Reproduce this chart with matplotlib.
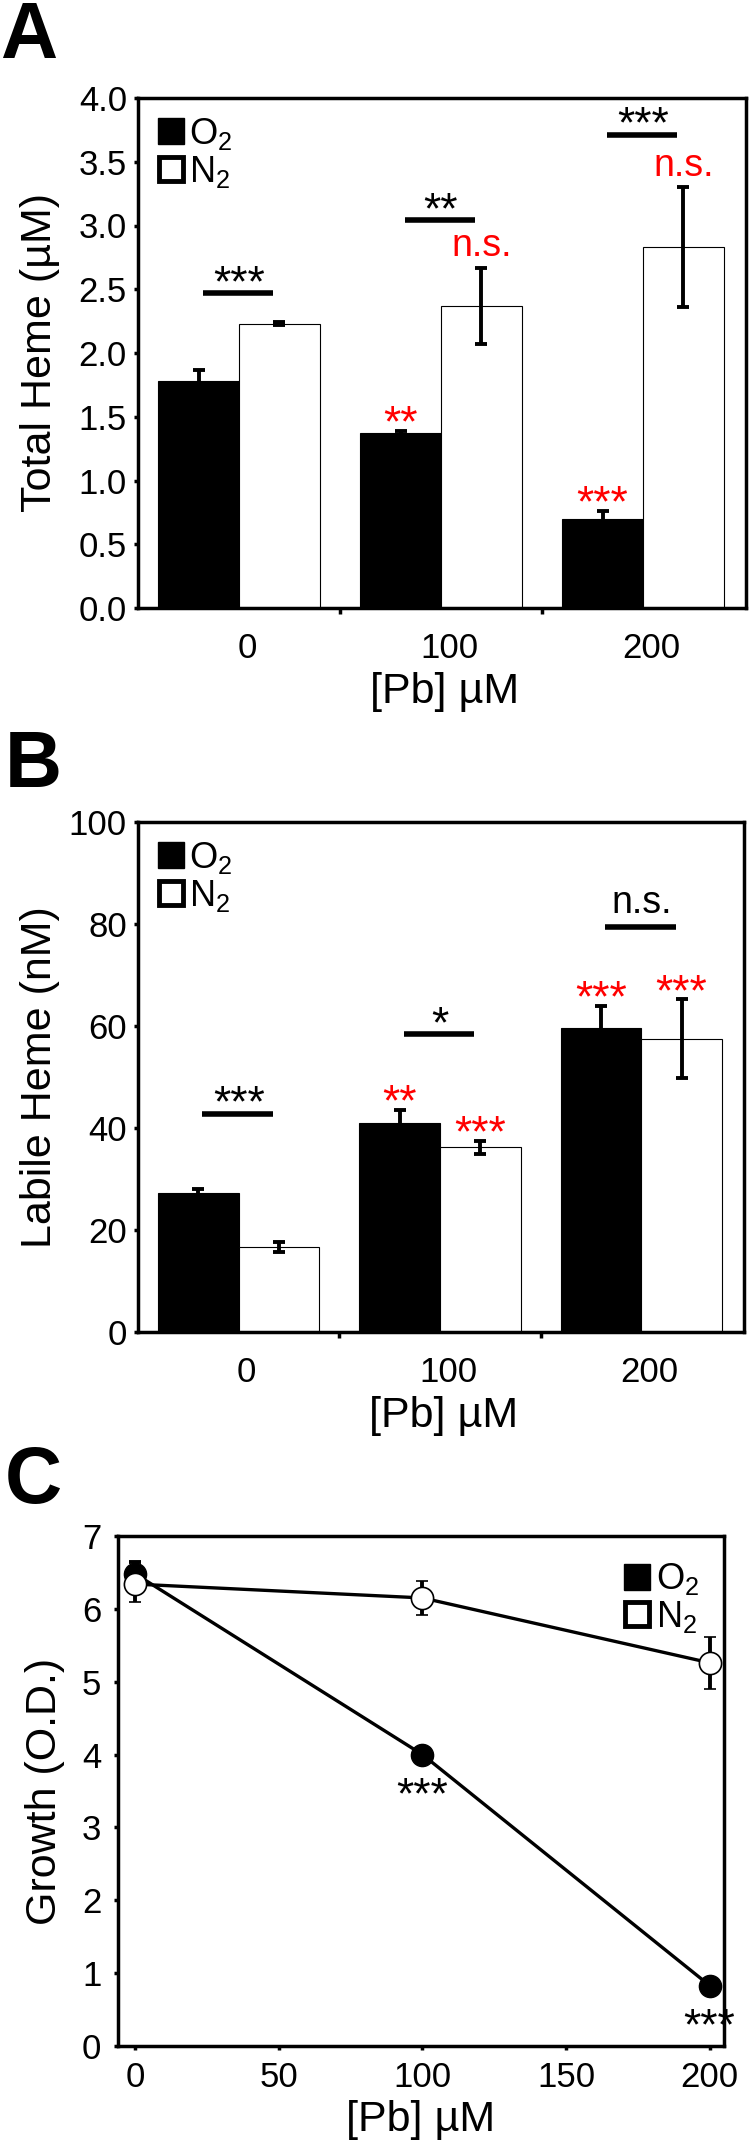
import numpy as np
import matplotlib.pyplot as plt
from matplotlib.lines import Line2D

plt.rcParams['font.family'] = ['Liberation Sans', 'DejaVu Sans']
plt.rcParams['mathtext.fontset'] = 'custom'
plt.rcParams['mathtext.rm'] = 'Liberation Sans'
plt.rcParams['mathtext.it'] = 'Liberation Sans:italic'
plt.rcParams['mathtext.bf'] = 'Liberation Sans:bold'

# Pb levels
pb_levels = ['0', '100', '200']
pb_conc = [0, 100, 200]

# A: total heme (uM)
total_o2 = [1.78, 1.37, 0.70]
total_o2_err = [0.09, 0.02, 0.06]
total_n2 = [2.23, 2.37, 2.83]
total_n2_err = [0.01, 0.30, 0.47]
total_pair_sig = ['***', '**', '***']
total_o2_sig = ['', '**', '***']
total_n2_sig = ['', 'n.s.', 'n.s.']

# B: labile heme (nM)
labile_o2 = [27.3, 41.0, 59.7]
labile_o2_err = [0.7, 2.5, 4.3]
labile_n2 = [16.7, 36.2, 57.5]
labile_n2_err = [1.0, 1.3, 7.7]
labile_pair_sig = ['***', '*', 'n.s.']
labile_o2_sig = ['', '**', '***']
labile_n2_sig = ['', '***', '***']

# C: growth (O.D.)
growth_o2 = [6.48, 4.00, 0.83]
growth_o2_err = [0.17, 0.08, 0.05]
growth_n2 = [6.34, 6.15, 5.26]
growth_n2_err = [0.24, 0.23, 0.36]
growth_o2_sig = ['', '***', '***']

W, H = 750, 2147
fig = plt.figure(figsize=(W / 100, H / 100), dpi=100)

TICK_FS = 25
LABEL_FS = 31
STAR_FS = 32
NS_FS = 27
ERR_LW = 2.8


def sig_text(ax, s, x, y, off, color):
    fs = NS_FS if s == 'n.s.' else STAR_FS
    if s == 'n.s.':
        off += 12
    ax.annotate(s, xy=(x, y), xytext=(0, off), textcoords='offset points',
                ha='center', va='baseline', fontsize=fs, color=color)


def legend(ax, loc, pad):
    handles = [Line2D([], [], marker='s', ls='none', ms=19, mfc='black', mec='black', mew=1),
               Line2D([], [], marker='s', ls='none', ms=17, mfc='white', mec='black', mew=3.5)]
    ax.legend(handles, ['O$_2$', 'N$_2$'], loc=loc, frameon=False, fontsize=26,
              handlelength=0.8, handletextpad=0.1, labelspacing=0.05,
              borderaxespad=pad, borderpad=0.2)


def style(ax):
    for sp in ax.spines.values():
        sp.set_linewidth(2.5)
    ax.tick_params(which='both', direction='out', width=2.5, length=3,
                   labelsize=TICK_FS, top=False, right=False)


def bar_panel(rect, o2, o2_err, n2, n2_err, pair_sig, line_y, o2_sig, n2_sig,
              ylim, yticks, fmt, ylabel):
    ax = fig.add_axes(rect)
    x = np.arange(len(pb_levels))
    w = 0.4
    ax.bar(x - w / 2, o2, w, color='black', edgecolor='black', linewidth=0.8, zorder=2)
    ax.bar(x + w / 2, n2, w, color='white', edgecolor='black', linewidth=0.8, zorder=2)
    ax.errorbar(x - w / 2, o2, yerr=o2_err, fmt='none', ecolor='black',
                elinewidth=ERR_LW, capsize=4.3, capthick=ERR_LW, zorder=3)
    ax.errorbar(x + w / 2, n2, yerr=n2_err, fmt='none', ecolor='black',
                elinewidth=ERR_LW, capsize=4.3, capthick=ERR_LW, zorder=3)
    for i in range(len(x)):
        ax.plot([x[i] - 0.18, x[i] + 0.17], [line_y[i], line_y[i]], color='black',
                lw=4, solid_capstyle='butt', zorder=3)
        sig_text(ax, pair_sig[i], x[i], line_y[i], -2, 'black')
        if o2_sig[i]:
            sig_text(ax, o2_sig[i], x[i] - w / 2, o2[i] + o2_err[i], -4, 'red')
        if n2_sig[i]:
            sig_text(ax, n2_sig[i], x[i] + w / 2, n2[i] + n2_err[i], -4, 'red')
    ax.set_xlim(-0.5, 2.51)
    ax.set_ylim(*ylim)
    ax.set_yticks(yticks)
    ax.set_yticklabels([fmt % v for v in yticks])
    ax.set_xticks(x + 0.04)
    ax.set_xticklabels(pb_levels)
    ax.set_xticks([0.5, 1.5], minor=True)
    style(ax)
    ax.tick_params(axis='x', which='major', length=0, pad=17)
    ax.tick_params(axis='x', which='minor', length=4)
    ax.tick_params(axis='y', pad=5)
    ax.set_ylabel(ylabel, fontsize=LABEL_FS)
    ax.yaxis.set_label_coords(-0.128, 0.5)
    ax.set_xlabel('[Pb] µM', fontsize=LABEL_FS)
    ax.xaxis.set_label_coords(0.505, -0.125)
    legend(ax, 'upper left', 0.3)
    return ax


bar_panel([138 / W, 1 - 608 / H, 608 / W, 510 / H],
          total_o2, total_o2_err, total_n2, total_n2_err, total_pair_sig,
          [2.47, 3.04, 3.71], total_o2_sig, total_n2_sig,
          (0, 4.0), np.arange(0, 4.01, 0.5), '%.1f', 'Total Heme (µM)')

bar_panel([138 / W, 1 - 1332 / H, 606 / W, 510 / H],
          labile_o2, labile_o2_err, labile_n2, labile_n2_err, labile_pair_sig,
          [42.75, 58.4, 79.5], labile_o2_sig, labile_n2_sig,
          (0, 100), np.arange(0, 101, 20), '%d', 'Labile Heme (nM)')

# C: growth curve
ax = fig.add_axes([118 / W, 1 - 2046 / H, 606 / W, 510 / H])
ax.errorbar(pb_conc, growth_o2, yerr=growth_o2_err, fmt='-o', color='black',
            mfc='black', mec='black', ms=16, lw=2.4, elinewidth=ERR_LW,
            capsize=4.3, capthick=ERR_LW, zorder=3)
ax.errorbar(pb_conc, growth_n2, yerr=growth_n2_err, fmt='-o', color='black',
            mfc='white', mec='black', mew=1.2, ms=16, lw=2.4, elinewidth=ERR_LW,
            capsize=4.3, capthick=ERR_LW, zorder=4)
for xi, yi, s in zip(pb_conc, growth_o2, growth_o2_sig):
    if s:
        ax.annotate(s, xy=(xi, yi), xytext=(0, -39), textcoords='offset points',
                    ha='center', va='baseline', fontsize=STAR_FS, color='black',
                    zorder=5)
ax.set_xlim(-6, 205)
ax.set_ylim(0, 7)
ax.set_xticks([0, 50, 100, 150, 200])
ax.set_yticks(range(0, 8))
style(ax)
ax.tick_params(axis='x', pad=8)
ax.tick_params(axis='y', pad=9)
ax.set_ylabel('Growth (O.D.)', fontsize=LABEL_FS)
ax.yaxis.set_label_coords(-0.087, 0.5)
ax.set_xlabel('[Pb] µM', fontsize=LABEL_FS)
ax.xaxis.set_label_coords(0.5, -0.106)
legend(ax, 'upper right', 0.5)

# panel letters
fig.text(0.0, 1.0, 'A', fontsize=57, fontweight='bold', va='top', ha='left')
fig.text(5 / W, 1 - 729 / H, 'B', fontsize=57, fontweight='bold', va='top', ha='left')
fig.text(5 / W, 1 - 1445 / H, 'C', fontsize=57, fontweight='bold', va='top', ha='left')

fig.savefig('out.png', dpi=100)
